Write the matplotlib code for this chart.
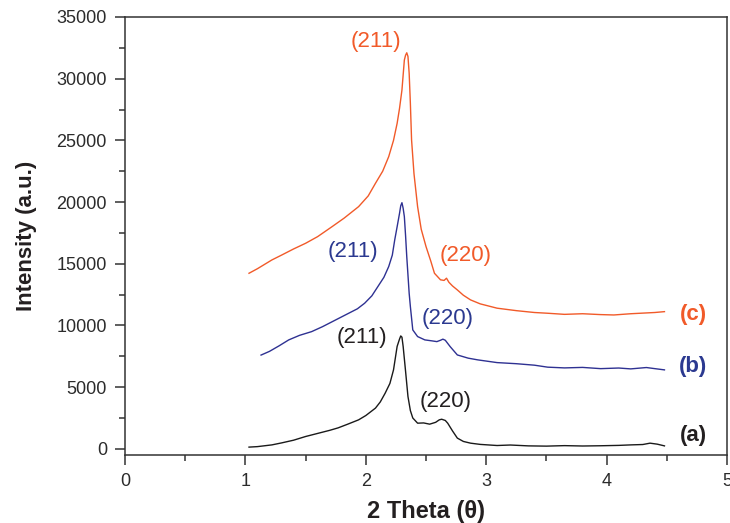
import matplotlib.pyplot as plt
from matplotlib.ticker import MultipleLocator

plt.rcParams['font.family'] = ['Liberation Sans', 'DejaVu Sans']

# (a) black pattern
x_a = [1.03, 1.10, 1.22, 1.30, 1.40, 1.50, 1.60, 1.70, 1.77, 1.85, 1.94, 2.00, 2.08,
       2.12, 2.16, 2.20, 2.23, 2.26, 2.28, 2.29, 2.30, 2.31, 2.33, 2.35, 2.37, 2.39,
       2.43, 2.48, 2.53, 2.58, 2.61, 2.63, 2.66, 2.68, 2.72, 2.76, 2.81, 2.87, 2.95,
       3.09, 3.20, 3.35, 3.50, 3.65, 3.80, 3.95, 4.10, 4.20, 4.30, 4.36, 4.42, 4.48]
y_a = [140, 180, 320, 480, 700, 1000, 1250, 1500, 1700, 2000, 2350, 2700, 3300,
       3800, 4500, 5300, 6400, 8300, 8900, 9150, 9050, 8300, 6300, 4240, 3100, 2500,
       2080, 2100, 2000, 2150, 2350, 2400, 2300, 2080, 1450, 870, 600, 460, 360,
       270, 310, 240, 220, 260, 230, 250, 280, 320, 350, 460, 380, 240]

# (b) blue pattern
x_b = [1.13, 1.20, 1.28, 1.36, 1.45, 1.55, 1.64, 1.72, 1.80, 1.86, 1.93, 1.99, 2.05,
       2.10, 2.15, 2.19, 2.22, 2.24, 2.26, 2.28, 2.29, 2.30, 2.31, 2.32, 2.33, 2.34,
       2.36, 2.37, 2.39, 2.43, 2.49, 2.55, 2.59, 2.62, 2.64, 2.66, 2.70, 2.76, 2.85,
       2.93, 3.09, 3.25, 3.40, 3.51, 3.65, 3.80, 3.95, 4.10, 4.20, 4.33, 4.40, 4.48]
y_b = [7600, 7900, 8350, 8830, 9200, 9500, 9900, 10300, 10700, 11000, 11350, 11800, 12400,
       13150, 13900, 14770, 15700, 16930, 18000, 19090, 19700, 19950, 19500, 18820, 17300, 15580,
       12600, 11530, 9640, 9100, 8830, 8750, 8690, 8800, 8890, 8800, 8290, 7610, 7350,
       7210, 6990, 6900, 6780, 6620, 6560, 6600, 6500, 6550, 6480, 6590, 6500, 6400]

# (c) orange pattern
x_c = [1.03, 1.10, 1.22, 1.30, 1.40, 1.50, 1.60, 1.72, 1.82, 1.94, 2.02, 2.08, 2.14,
       2.19, 2.23, 2.26, 2.28, 2.30, 2.32, 2.33, 2.34, 2.35, 2.36, 2.37, 2.38, 2.40,
       2.43, 2.46, 2.50, 2.54, 2.57, 2.62, 2.65, 2.67, 2.69, 2.72, 2.76, 2.81, 2.87,
       2.95, 3.09, 3.25, 3.40, 3.51, 3.65, 3.80, 3.95, 4.06, 4.20, 4.30, 4.40, 4.48]
y_c = [14230, 14600, 15310, 15700, 16200, 16660, 17200, 18010, 18700, 19630, 20500, 21520, 22500,
       23680, 25000, 26380, 27600, 29080, 31510, 31900, 32100, 31800, 30430, 28000, 25030, 22300,
       19630, 17800, 16390, 15200, 14230, 13700, 13650, 13830, 13500, 13200, 12880, 12450, 12070,
       11750, 11400, 11200, 11050, 10990, 10900, 10950, 10880, 10850, 10950, 11000, 11050, 11120]

peak_labels = [
    ('(211)', 2.08, 33000, '#f15a29'),
    ('(220)', 2.83, 15700, '#f15a29'),
    ('(211)', 1.89, 16000, '#2b3990'),
    ('(220)', 2.68, 10600, '#2b3990'),
    ('(211)', 1.97, 9000, '#231f20'),
    ('(220)', 2.66, 3850, '#231f20'),
]
curve_labels = [('(c)', 10850, '#f15a29'), ('(b)', 6650, '#2b3990'), ('(a)', 1050, '#231f20')]

fig = plt.figure(figsize=(7.3, 5.23), dpi=100)
ax = fig.add_axes([0.1712, 0.130, 0.8248, 0.8375])

ax.plot(x_a, y_a, color='#1a1a1a', lw=1.0)
ax.plot(x_b, y_b, color='#2e3192', lw=1.0)
ax.plot(x_c, y_c, color='#f15a29', lw=1.0)

for txt, x, y, c in peak_labels:
    ax.text(x, y, txt, color=c, fontsize=16, ha='center', va='center')
for txt, y, c in curve_labels:
    ax.text(4.72, y, txt, color=c, fontsize=16, fontweight='bold', ha='center', va='center')

ax.set_xlim(0, 5)
ax.set_ylim(-500, 35000)
ax.xaxis.set_major_locator(MultipleLocator(1))
ax.xaxis.set_minor_locator(MultipleLocator(0.5))
ax.yaxis.set_major_locator(MultipleLocator(5000))
ax.yaxis.set_minor_locator(MultipleLocator(2500))
ax.tick_params(which='major', direction='out', length=7, width=1.1, colors='#333333',
               labelsize=13, labelcolor='#2b2b2b', pad=6)
ax.tick_params(which='minor', direction='out', length=4.5, width=1.1, colors='#333333')
for s in ax.spines.values():
    s.set_color('#333333')
    s.set_linewidth(1.1)

ax.set_xlabel('2 Theta (θ)', fontsize=17, fontweight='bold', color='#231f20', labelpad=7)
ax.set_ylabel('Intensity (a.u.)', fontsize=16, fontweight='bold', color='#231f20', labelpad=14)

fig.savefig('out.png', dpi=100)
